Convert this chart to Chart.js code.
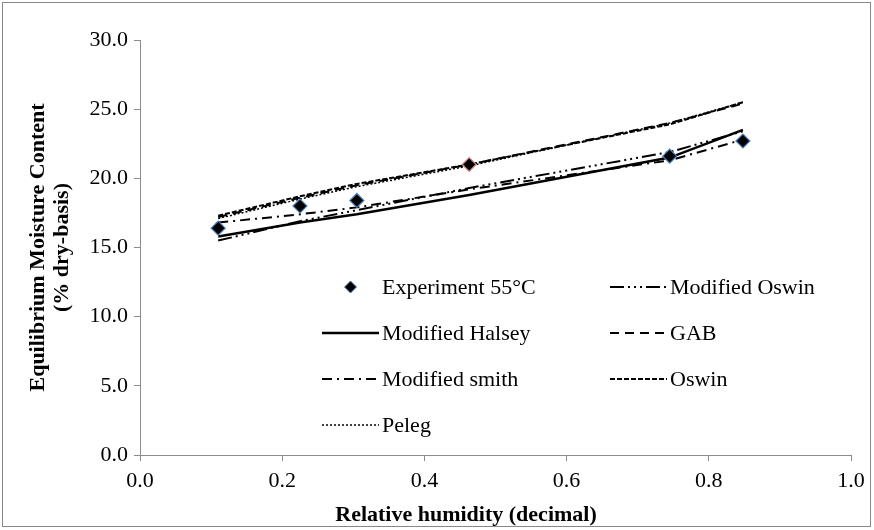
<!DOCTYPE html>
<html>
<head>
<meta charset="utf-8">
<title>Equilibrium Moisture Content</title>
<script src="https://cdn.jsdelivr.net/npm/chart.js@4.4.0/dist/chart.umd.min.js"></script>
<style>
    body { margin: 0; background: #fff; }
    #wrap { width: 874px; height: 530px; position: relative; }
</style>
</head>
<body>
<div id="wrap"><canvas id="emcChart" width="874" height="530"></canvas></div>
<script>
// Relative humidity (decimal) of the measured points
const rh = [0.11, 0.225, 0.305, 0.463, 0.745, 0.848];

// Measured EMC (% dry-basis) at 55°C
const experiment = [16.4, 18.0, 18.4, 21.0, 21.6, 22.7];

// Model predictions at the same RH
const modOswin  = [15.5, 16.9, 17.7, 19.3, 21.9, 23.4];
const modHalsey = [15.8, 16.8, 17.4, 18.8, 21.5, 23.5];
const gab       = [17.2, 18.6, 19.5, 21.0, 24.0, 25.4];
const modSmith  = [16.8, 17.4, 17.9, 19.2, 21.3, 22.8];
const oswin     = [17.3, 18.7, 19.6, 21.0, 23.9, 25.5];
const peleg     = [17.1, 18.5, 19.4, 20.9, 24.0, 25.5];

const xTicks = [0, 0.2, 0.4, 0.6, 0.8, 1.0];
const yTicks = [0, 5, 10, 15, 20, 25, 30];

const xTitle = 'Relative humidity (decimal)';
const yTitle = ['Equilibrium Moisture Content', '(% dry-basis)'];

const FONT = 'Liberation Serif';
const FONT_SIZE = 22;

function toPoints(values) {
    return values.map((v, i) => ({ x: rh[i], y: v }));
}

function lineSet(label, values, dash, width) {
    return {
        label: label,
        data: toPoints(values),
        borderColor: '#000',
        backgroundColor: '#000',
        borderWidth: width,
        borderDash: dash,
        pointRadius: 0,
        showLine: true,
        fill: false,
        tension: 0
    };
}

// Two-column legend drawn inside the plot, like the original
const gridLegend = {
    id: 'gridLegend',
    afterDraw(chart) {
        const ctx = chart.ctx;
        const cols = [322, 610];
        const rows = [287, 333, 379, 425];
        const symW = 57;
        ctx.save();
        ctx.font = FONT_SIZE + 'px "' + FONT + '"';
        ctx.textBaseline = 'middle';
        chart.data.datasets.forEach((ds, i) => {
            const x = cols[i % 2];
            const y = rows[Math.floor(i / 2)];
            if (ds.pointStyle === 'rectRot') {
                const cx = x + symW / 2;
                const r = 6;
                ctx.beginPath();
                ctx.moveTo(cx, y - r);
                ctx.lineTo(cx + r, y);
                ctx.lineTo(cx, y + r);
                ctx.lineTo(cx - r, y);
                ctx.closePath();
                ctx.fillStyle = '#000';
                ctx.fill();
                ctx.strokeStyle = '#4a7ebb';
                ctx.lineWidth = 1;
                ctx.stroke();
            } else {
                ctx.beginPath();
                ctx.setLineDash(ds.borderDash || []);
                ctx.strokeStyle = '#000';
                ctx.lineWidth = ds.borderWidth;
                ctx.moveTo(x, y);
                ctx.lineTo(x + symW, y);
                ctx.stroke();
                ctx.setLineDash([]);
            }
            ctx.fillStyle = '#000';
            ctx.fillText(ds.label, x + symW + 3, y + 1);
        });
        ctx.restore();
    }
};

// X axis title sits a little left of the plot centre in the original
const xAxisTitle = {
    id: 'xAxisTitle',
    afterDraw(chart) {
        const ctx = chart.ctx;
        ctx.save();
        ctx.font = 'bold ' + FONT_SIZE + 'px "' + FONT + '"';
        ctx.fillStyle = '#000';
        ctx.textAlign = 'center';
        ctx.textBaseline = 'middle';
        ctx.fillText(xTitle, 466, 515);
        ctx.restore();
    }
};

// Grey frame around the whole chart
const frame = {
    id: 'frame',
    afterDraw(chart) {
        const ctx = chart.ctx;
        ctx.save();
        ctx.strokeStyle = '#888';
        ctx.lineWidth = 1;
        ctx.strokeRect(2.5, 2.5, 868, 524);
        ctx.restore();
    }
};

const axisGrey = '#8c8c8c';

new Chart(document.getElementById('emcChart').getContext('2d'), {
    type: 'scatter',
    data: {
        datasets: [
            {
                label: 'Experiment 55°C',
                data: toPoints(experiment),
                pointStyle: 'rectRot',
                pointRadius: 7,
                pointBackgroundColor: '#000',
                pointBorderColor: ['#4a7ebb', '#4a7ebb', '#4a7ebb', '#d88a8a', '#4a7ebb', '#4a7ebb'],
                pointBorderWidth: 1.2,
                showLine: false
            },
            lineSet('Modified Oswin', modOswin, [14, 4, 2, 4, 2, 4, 2, 4], 2),
            lineSet('Modified Halsey', modHalsey, [], 2.5),
            lineSet('GAB', gab, [9, 6], 2),
            lineSet('Modified smith', modSmith, [10, 5, 2, 5], 2),
            lineSet('Oswin', oswin, [5, 2], 2),
            lineSet('Peleg', peleg, [2, 2], 1.5)
        ]
    },
    options: {
        responsive: false,
        animation: false,
        layout: { padding: { left: 26, right: 23, top: 40, bottom: 0 } },
        plugins: {
            legend: { display: false },
            tooltip: { enabled: false }
        },
        scales: {
            x: {
                type: 'linear',
                min: 0,
                max: 1,
                afterBuildTicks: (scale) => { scale.ticks = xTicks.map(v => ({ value: v })); },
                afterFit: (scale) => { scale.height = 75; },
                ticks: {
                    color: '#000',
                    font: { family: FONT, size: FONT_SIZE },
                    padding: 7,
                    maxRotation: 0,
                    callback: (v) => Number(v).toFixed(1)
                },
                grid: { display: true, drawOnChartArea: false, drawTicks: true, tickLength: 6, color: axisGrey },
                border: { color: axisGrey, width: 1 },
                title: { display: false }
            },
            y: {
                type: 'linear',
                min: 0,
                max: 30,
                afterBuildTicks: (scale) => { scale.ticks = yTicks.map(v => ({ value: v })); },
                afterFit: (scale) => { scale.width = 114; },
                ticks: {
                    color: '#000',
                    font: { family: FONT, size: FONT_SIZE },
                    padding: 6,
                    callback: (v) => Number(v).toFixed(1)
                },
                grid: { display: true, drawOnChartArea: false, drawTicks: true, tickLength: 6, color: axisGrey },
                border: { color: axisGrey, width: 1 },
                title: {
                    display: true,
                    text: yTitle,
                    color: '#000',
                    font: { family: FONT, size: FONT_SIZE, weight: 'bold', lineHeight: 1.1 },
                    padding: { top: 0, bottom: 4 }
                }
            }
        }
    },
    plugins: [gridLegend, xAxisTitle, frame]
});
</script>
</body>
</html>
